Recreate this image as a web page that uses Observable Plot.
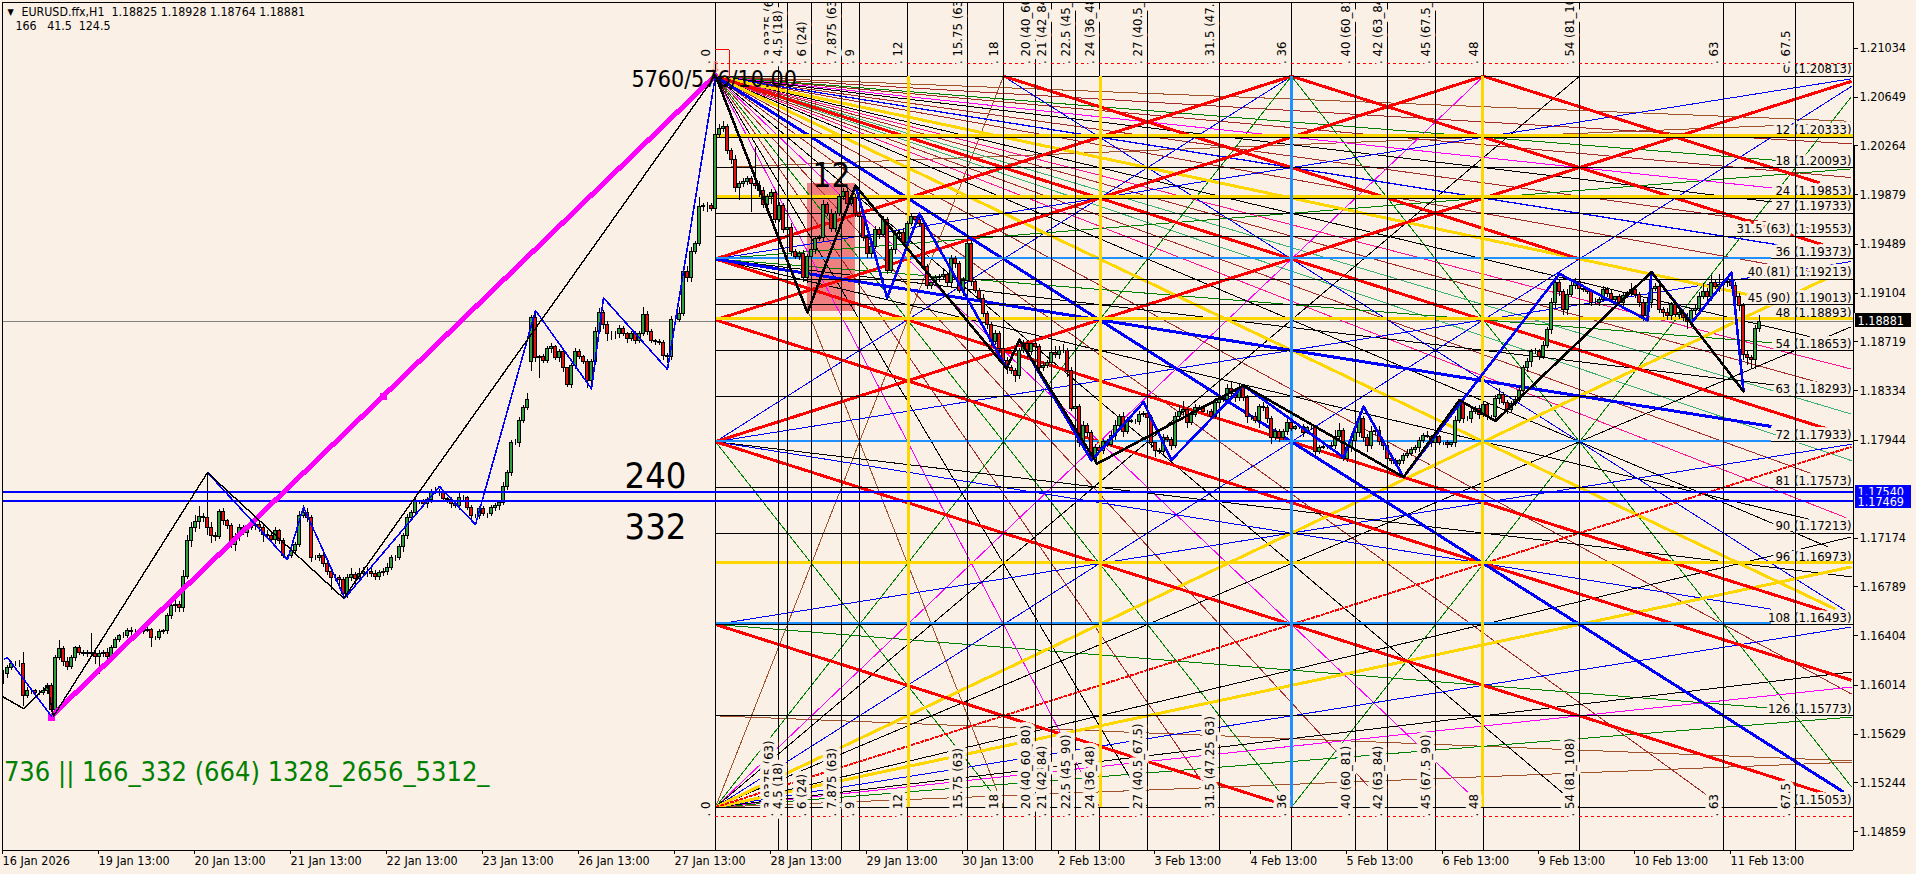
<!DOCTYPE html>
<html><head><meta charset="utf-8">
<script src="https://cdn.jsdelivr.net/npm/d3@7"></script>
<script src="https://cdn.jsdelivr.net/npm/@observablehq/plot@0.6"></script>
<style>html,body{margin:0;padding:0;background:#faf0e6;overflow:hidden}</style>
</head><body><div id="c"></div>
<script>
const FONT='"DejaVu Sans Condensed","DejaVu Sans",sans-serif';
const BG="#faf0e6";
// ---- time / price axis
const dateLabels=["16 Jan 2026","19 Jan 13:00","20 Jan 13:00","21 Jan 13:00","22 Jan 13:00","23 Jan 13:00","26 Jan 13:00","27 Jan 13:00","28 Jan 13:00","29 Jan 13:00","30 Jan 13:00","2 Feb 13:00","3 Feb 13:00","4 Feb 13:00","5 Feb 13:00","6 Feb 13:00","9 Feb 13:00","10 Feb 13:00","11 Feb 13:00"];
const priceTicks=[1.21034,1.20649,1.20264,1.19879,1.19489,1.19104,1.18719,1.18334,1.17944,1.17174,1.16789,1.16404,1.16014,1.15629,1.15244,1.14859];
// ---- candle closes, in 1e-4 above 1.0000, one per H1 bar
const closes=[
1610,1615,1618,1618,1618,1593,1597,1597,1595,1595,1597,1601,1582,1623,1630,1620,1616,1623,1631,1627,
1626,1627,1626,1624,1626,1627,1624,1631,1637,1640,1640,1644,1643,1643,1643,1644,1645,1639,1639,1643,
1644,1656,1664,1665,1662,1687,1715,1725,1730,1734,1733,1725,1719,1718,1738,1731,1727,1712,1718,1725,
1721,1725,1727,1728,1725,1720,1719,1716,1723,1715,1703,1703,1707,1712,1735,1737,1733,1702,1702,1703,
1697,1691,1686,1686,1684,1673,1686,1688,1685,1689,1691,1691,1689,1687,1690,1691,1694,1702,1702,1710,
1719,1733,1737,1746,1746,1744,1747,1754,1754,1753,1748,1747,1744,1743,1749,1749,1741,1735,1735,1740,
1736,1736,1741,1743,1745,1758,1769,1792,1792,1810,1820,1826,1891,1859,1860,1857,1866,1868,1859,1864,
1851,1838,1853,1864,1860,1856,1841,1856,1880,1895,1885,1878,1878,1878,1882,1878,1874,1878,1873,1878,
1893,1880,1873,1872,1871,1861,1860,1889,1889,1894,1927,1922,1943,1949,1978,1979,1979,1977,2035,2040,
2041,2022,2015,1993,1996,1998,2000,1996,1995,1991,1980,1986,1989,1968,1979,1960,1962,1943,1939,1941,
1922,1939,1944,1953,1954,1980,1973,1961,1973,1986,1990,1981,1985,1973,1970,1954,1941,1947,1960,1956,
1968,1928,1944,1957,1958,1950,1965,1970,1968,1965,1931,1916,1918,1922,1923,1925,1918,1937,1933,1912,
1920,1949,1919,1912,1906,1894,1885,1872,1878,1866,1857,1851,1849,1845,1865,1870,1864,1870,1868,1851,
1853,1855,1863,1862,1865,1865,1849,1819,1821,1792,1806,1800,1779,1788,1786,1793,1791,1798,1806,1813,
1801,1810,1809,1809,1814,1815,1812,1792,1786,1785,1796,1795,1790,1813,1817,1818,1808,1814,1820,1819,
1817,1817,1813,1824,1827,1826,1835,1831,1828,1836,1828,1813,1813,1810,1821,1820,1811,1796,1801,1796,
1801,1808,1803,1805,1805,1800,1804,1804,1785,1788,1789,1789,1790,1797,1802,1780,1788,1794,1800,1811,
1796,1790,1801,1802,1793,1790,1780,1778,1776,1778,1782,1784,1787,1788,1794,1798,1797,1792,1797,1792,
1792,1791,1792,1810,1824,1811,1811,1817,1819,1814,1822,1813,1813,1827,1830,1824,1818,1823,1826,1833,
1851,1856,1864,1864,1860,1869,1881,1903,1918,1911,1897,1909,1916,1919,1914,1913,1911,1903,1903,1905,
1913,1910,1905,1907,1903,1908,1910,1913,1909,1903,1892,1903,1914,1915,1897,1895,1892,1901,1893,1895,
1891,1888,1896,1898,1907,1911,1907,1918,1915,1917,1918,1919,1916,1907,1900,1862,1859,1858,1882,1888];
const openOverrides={132:1856};
const upWicks=[
3,2,2,2,3,9,3,2,1,2,3,2,2,2,7,2,3,2,1,2,
2,2,15,2,3,2,3,2,2,1,3,2,3,2,1,2,2,1,1,2,
1,2,1,3,2,5,4,5,5,8,3,36,5,3,2,3,1,2,3,3,
2,2,3,2,3,2,3,2,3,1,2,1,3,2,3,6,4,2,2,2,
3,2,2,3,2,2,3,5,2,4,3,3,2,3,2,2,3,2,2,2,
2,3,2,3,1,2,2,2,3,2,2,1,2,1,4,2,1,2,1,2,
2,1,2,2,2,3,2,2,3,2,2,5,2,3,1,2,2,3,1,2,
2,1,2,3,2,1,2,2,3,3,2,3,2,2,3,2,1,2,2,2,
6,3,2,1,2,2,2,3,2,5,2,4,3,2,8,2,3,2,5,3,
5,2,2,4,2,3,2,2,29,3,3,2,3,2,3,2,2,3,2,2,
3,2,3,2,2,3,2,3,2,2,3,2,3,2,2,3,2,2,3,2,
3,2,2,3,2,3,2,2,1,2,3,2,1,2,2,3,2,3,2,2,
3,2,3,2,2,3,2,2,3,2,2,3,2,2,2,3,3,1,4,2,
3,2,3,5,3,5,2,3,1,2,3,2,2,3,2,2,2,3,4,2,
3,2,1,2,3,2,3,2,1,2,3,2,2,3,5,7,2,3,3,2,
2,1,2,3,3,2,3,5,2,3,2,2,1,3,2,3,2,2,3,2,
2,3,2,1,2,2,1,3,2,2,1,1,3,5,6,2,3,3,2,3,
2,3,4,2,3,2,1,1,2,1,2,3,2,2,3,2,3,1,2,1,
1,2,1,3,2,4,2,3,2,3,3,2,1,3,5,2,2,2,2,3,
2,3,2,3,2,3,2,3,4,3,2,4,5,3,2,2,1,2,3,2,
3,2,3,1,2,3,2,5,3,2,2,4,3,3,2,2,3,2,3,2,
2,3,2,3,4,7,3,6,2,8,3,2,3,3,3,2,2,2,3,5];
const downWicks=[
8,3,2,2,3,8,2,3,2,2,2,3,2,5,2,4,3,2,3,2,
2,3,2,6,14,3,2,2,1,2,2,2,3,2,2,2,1,8,2,2,
2,3,3,5,3,3,2,5,3,6,3,6,6,3,2,4,3,3,5,3,
2,3,2,4,3,6,3,3,4,3,2,3,2,3,2,2,3,4,2,3,
3,3,10,3,5,3,3,3,6,2,3,5,3,3,3,3,3,2,3,2,
4,3,2,3,2,2,3,2,2,3,2,2,3,2,4,3,2,3,2,3,
2,3,2,3,4,2,3,3,2,3,2,2,7,3,16,2,2,3,2,3,
3,2,3,3,2,2,6,5,3,2,3,6,5,4,3,2,3,2,3,2,
2,3,2,3,2,4,5,3,3,2,2,3,3,2,2,3,5,2,3,2,
3,2,3,3,10,2,3,22,3,5,3,2,6,3,2,3,3,4,2,3,
3,4,2,3,2,4,2,3,3,2,3,3,2,3,2,3,3,3,2,3,
2,3,2,3,3,3,2,2,3,3,2,3,3,2,3,2,3,3,3,2,
4,6,3,2,2,3,3,4,3,3,3,5,3,5,3,2,5,3,3,4,
2,2,3,3,4,2,5,2,2,3,4,3,2,3,2,3,2,2,4,3,
4,2,1,2,3,2,2,4,5,2,3,2,4,2,2,3,4,2,2,1,
1,2,2,2,3,2,3,2,4,3,3,5,3,2,6,3,3,5,2,3,
2,3,2,1,2,3,1,2,3,2,1,2,2,3,2,2,3,3,2,3,
3,5,3,3,3,4,2,3,2,2,3,2,2,3,3,2,1,3,2,2,
2,3,2,3,2,3,2,3,2,3,2,3,2,3,4,2,3,2,2,2,
4,3,4,2,3,2,2,3,5,3,4,4,2,3,2,2,2,3,2,3,
2,3,3,2,3,4,2,2,3,4,4,5,5,2,3,4,3,3,2,3,
3,6,5,3,3,2,3,3,2,4,2,3,3,4,4,5,6,7,8,3];
// ---- zigzags: [bar, price in 1e-4 above 1.0000]
const blueZigA=[[0.2,1622],[1,1623],[12,1577]];
const blueZigB=[[51,1769],[71,1700.4],[75,1741.7],[85.3,1670],[109,1758],[118,1728],[133,1896.7],[147,1835],[150,1906.7],[166,1850.2],[178,2082]];
const blackThin=[[0,1592],[5,1583],[11,1601],[12.5,1577],[51,1769],[85,1670],[178,2082]];
const blackThick=[[178,2082],[201,1895],[213,1995],[250.8,1851],[254,1873.6],[273.4,1776],[310,1837.6],[350,1765.4],[364,1826],[373,1809.6],[412,1927],[435,1833]];
const blueThickZig=[[213,1995],[220.9,1906.7],[229,1973],[250.8,1851],[254,1873.6],[272,1778.5],[285,1824.4],[292,1779],[310,1837.6],[335,1781],[340,1821],[350,1765.4],[389,1925.6],[411,1889],[412,1927],[422,1887],[432,1926.4],[435,1833]];
const magentaLeg=[[12,1577],[178,2082]];
const magentaKnots=[[12,1576],[94.9,1829]];
// ---- Gann box: level number -> price / time
const boxStartBar=178, barsPerLevel=4, boxTop=1.20813, pricePerLevel=0.0004;
const goldLevels=[12,24,48,96], blueLevels=[36,72,108], blackLevels=[0,18,27,31.5,40,45,54,63,81,90,126,144];
const levelLabels=[[0,"0 (1.20813)"],[12,"12 (1.20333)"],[18,"18 (1.20093)"],[24,"24 (1.19853)"],[27,"27 (1.19733)"],[31.5,"31.5 (63) (1.19553)"],[36,"36 (1.19373)"],[40,"40 (81) (1.19213)"],[45,"45 (90) (1.19013)"],[48,"48 (1.18893)"],[54,"54 (1.18653)"],[63,"63 (1.18293)"],[72,"72 (1.17933)"],[81,"81 (1.17573)"],[90,"90 (1.17213)"],[96,"96 (1.16973)"],[108,"108 (1.16493)"],[126,"126 (1.15773)"],[144,"1 (1.15053)"]];
const timeLevels=[0,3.9375,4.5,6,7.875,9,12,15.75,18,20,21,22.5,24,27,31.5,36,40,42,45,48,54,63,67.5];
const timeLabels=["0","3.9375 (63)","4.5 (18)","6 (24)","7.875 (63)","9","12","15.75 (63)","18","20 (40_60_80)","21 (42_84)","22.5 (45_90)","24 (36_48)","27 (40.5_67.5)","31.5 (47.25_63)","36","40 (60_81)","42 (63_84)","45 (67.5_90)","48","54 (81_108)","63","67.5"];
// ---- rays: [start level-x, start level-y, slope, end level-x]
const redThick=[[0,0,1,69.5],[18,0,1,54],[36,0,1,69.2],[48,0,1,69],[0,36,1,69.6],[0,48,1,71],[0,72,1,69.6],[0,108,1,36],[0,36,-1,36],[0,48,-1,48],[0,72,-1,71]];
const redDotted=[[0,144,-1,71]];
const goldThick=[[0,0,2/3,64.5],[0,0,3/2,70],[0,144,-2/3,71],[0,144,-3/2,71]];
const blueThick=[[0,0,2,70.5],[0,36,.5,66]];
const blueMedium=[[0,0,.5,66.5]];
const blueThin=[[18,0,2,70.7],[0,72,-2,36],[0,144,-2,71],[0,36,-.5,71],[0,72,-.5,71],[0,108,-.5,71],[0,144,-.5,71],[0,72,.5,66]];
const greenThin=[[0,0,4,36],[0,144,-4,36],[0,72,4,18],[36,0,4,71],[36,144,-4,71],[0,36,.25,66],[0,36,-.25,71],[0,108,.25,66],[0,144,-.25,71],[0,0,.25,66.4]];
const magentaThin=[[0,0,3,48],[0,144,-3,48],[0,0,1/3,66],[0,144,-1/3,71],[0,0,6,24]];
const blackThinRays=[[0,0,3/8,66],[0,0,3/4,68.4],[0,0,4/3,69.5],[0,0,8/3,54],[0,0,16/3,27],[0,36,3/8,67.6],[0,36,3/4,68.6],[0,72,3/8,71],[0,144,-3/8,71],[0,144,-3/4,71],[0,144,-4/3,71],[0,144,-8/3,54]];
const brownThin=[[0,0,1/8,71],[0,18,-1/8,71],[0,126,1/8,71],[0,144,-1/8,71],[0,144,-8,18],[0,0,8,18]];
const darkRedThin=[[0,0,3/16,71],[0,0,9/32,71],[0,0,7/16,71],[0,0,9/16,71],[0,0,7/8,69],[0,0,8/7,68.5],[0,0,12/7,71],[0,0,16/7,62],[0,0,24/7,41],[0,0,32/7,30.2]];
const pinkThin=[[0,0,13/16,71],[0,0,16/13,71]];
const seaGreenThin=[[0,0,15/16,71],[0,0,16/15,71]];

const bar=n=>boxStartBar+barsPerLevel*n;
const lvl=n=>boxTop-pricePerLevel*n;
const px=v=>1+v/10000;
const candles=closes.map((c,i)=>{const o=openOverrides[i]??(i?closes[i-1]:c);
  return {i,o:px(o),c:px(c),h:px(Math.max(o,c)+upWicks[i]),l:px(Math.min(o,c)-downWicks[i]),up:c>=o};});
const rayMark=(rays,stroke,strokeWidth,extra={})=>Plot.link(rays,{x1:r=>bar(r[0]),y1:r=>lvl(r[1]),x2:r=>bar(r[3]),y2:r=>lvl(r[1]+r[2]*(r[3]-r[0])),stroke,strokeWidth,clip:true,...extra});
const zig=(pts,stroke,strokeWidth)=>Plot.line(pts,{x:d=>d[0],y:d=>px(d[1]),stroke,strokeWidth,clip:true});
const note=(text,x,y,o)=>Plot.text([text],{x:()=>x,y:()=>y,text:d=>d,fontFamily:FONT,fill:"black",...o});
const lastPrice=1.18881;
const chart=Plot.plot({
  width:1916,height:874,marginTop:2,marginLeft:3,marginRight:63,marginBottom:24,
  x:{domain:[0,462.5],axis:null},y:{domain:[1.1471164,1.2139412],axis:null},
  style:{background:BG,fontFamily:FONT,fontSize:"12px",color:"black",shapeRendering:"crispEdges",display:"block"},
  marks:[
    Plot.rect([0],{x1:()=>201,x2:()=>213,y1:()=>1.1896,y2:()=>1.19966,fill:"#f08080"}),
    Plot.ruleY([lastPrice],{stroke:"#808080",strokeWidth:1}),
    // rays
    rayMark(brownThin,"#a0522d",1),
    rayMark(darkRedThin,"#a52a2a",1),
    rayMark(pinkThin,"#ff1493",1),
    rayMark(seaGreenThin,"#3cb371",1),
    rayMark(greenThin,"#008000",1),
    rayMark(magentaThin,"#ff00ff",1),
    rayMark(blackThinRays,"#000",1),
    rayMark(blueThin,"#0000ff",1),
    rayMark(blueMedium,"#0000ff",1.3),
    rayMark(goldThick,"#ffd700",3),
    rayMark(redDotted,"#ff0000",2,{strokeDasharray:"4 1"}),
    rayMark(redThick,"#ff0000",3),
    rayMark(blueThick,"#0000ff",3),
    // right level labels mask what runs behind them
    Plot.text(levelLabels,{x:()=>462,y:d=>lvl(d[0]),dy:-7,text:d=>d[1],textAnchor:"end",fontFamily:FONT,fontSize:13,fill:"black",stroke:BG,strokeWidth:6}),
    // horizontal levels
    Plot.ruleY(goldLevels.concat(blackLevels,blueLevels),{y:lvl,x1:bar(0),x2:462.5,stroke:"#000",strokeWidth:1}),
    Plot.ruleY(goldLevels,{y:lvl,dy:-1.5,x1:bar(0),x2:462.5,stroke:"#ffd700",strokeWidth:3}),
    Plot.ruleY(blueLevels,{y:lvl,dy:-1,x1:bar(0),x2:bar(66),stroke:"#1e90ff",strokeWidth:2}),
    // vertical levels
    Plot.ruleX(timeLevels,{x:bar,y1:1.1471164,y2:1.2139412,stroke:"#000",strokeWidth:1.4}),
    Plot.ruleX([12,24],{x:bar,dx:1,y1:lvl(144),y2:lvl(0),stroke:"#ffd700",strokeWidth:3.4}),
    Plot.ruleX([48],{x:bar,dx:-1.5,y1:lvl(144),y2:lvl(0),stroke:"#ffd700",strokeWidth:3}),
    Plot.ruleX([36],{x:bar,y1:lvl(144),y2:lvl(0),stroke:"#1e90ff",strokeWidth:2.4}),
    // dotted bounds
    Plot.ruleY([1.2091,1.1498],{x1:bar(0),x2:462.5,stroke:"#ff0000",strokeWidth:1,strokeDasharray:"3 3"}),
    // time labels
    Plot.text(timeLevels,{x:n=>bar(n)-2.3,y:()=>1.2091,text:(n,i)=>". "+timeLabels[i],rotate:-90,textAnchor:"start",fontFamily:FONT,fontSize:13,fill:"black",stroke:BG,strokeWidth:8,clip:true}),
    Plot.text(timeLevels,{x:n=>bar(n)-2.3,y:()=>1.1498,text:(n,i)=>". "+timeLabels[i],rotate:-90,textAnchor:"start",fontFamily:FONT,fontSize:13,fill:"black",stroke:BG,strokeWidth:8,clip:true}),
    // candles
    Plot.ruleX(candles,{x:"i",y1:"l",y2:"h",stroke:"#000",strokeWidth:1,clip:true}),
    Plot.rect(candles,{x1:d=>d.i-.38,x2:d=>d.i+.38,y1:"o",y2:"c",fill:d=>d.up?"#2e9e3e":"#e01010",stroke:"#000",strokeWidth:1,clip:true}),
    // blue session lines
    Plot.ruleY([1.1754,1.17469],{stroke:"#0000ff",strokeWidth:2}),
    // zigzags
    zig(magentaLeg,"#ff00ff",5),
    Plot.dot(magentaKnots,{x:d=>d[0],y:d=>px(d[1]),symbol:"square",r:4,fill:"#ff00ff"}),
    zig(blueZigA,"#0000ff",1.6),
    zig(blueZigB,"#0000ff",1.6),
    zig(blackThin,"#000",1.4),
    zig(blueThickZig,"#0000ff",2.6),
    zig(blackThick,"#000",2.6),
    // apex arrow
    Plot.line([[178,1.2102],[181.4,1.2102],[181.4,1.2081]],{x:d=>d[0],y:d=>d[1],stroke:"#ff0000",strokeWidth:1}),
    note("⇩",178,1.2088,{fill:"#fa8072",fontSize:16}),
    // big notes
    note("5760/576/10.00",157,1.20787,{textAnchor:"start",fontSize:23}),
    note("12",207,1.20023,{fontSize:33}),
    note("240",163,1.17661,{fontSize:36}),
    note("332",163,1.17255,{fontSize:36}),
    note("736 || 166_332 (664) 1328_2656_5312_",121.5,1.1533,{textAnchor:"end",fontSize:27,fill:"#008000"}),
    // header
    note("▼",1.75,1.21315,{fontSize:9}),
    note("EURUSD.ffx,H1  1.18825 1.18928 1.18764 1.18881",4.5,1.21315,{textAnchor:"start",fontSize:12.3}),
    note("166   41.5  124.5",3,1.21205,{textAnchor:"start",fontSize:12.3}),
    // price boxes
    Plot.rect([0],{x1:()=>463,x2:()=>477,y1:()=>1.17509,y2:()=>1.17591,fill:"#0000ff"}),
    note("1.17540",463.5,1.1754,{textAnchor:"start",fontSize:12.5,fill:"#fff"}),
    Plot.rect([0],{x1:()=>463,x2:()=>477,y1:()=>1.1741,y2:()=>1.17509,fill:"#0000ff"}),
    note("1.17469",463.5,1.17457,{textAnchor:"start",fontSize:12.5,fill:"#fff"}),
    Plot.rect([0],{x1:()=>463,x2:()=>477,y1:()=>1.18834,y2:()=>1.18944,fill:"#000"}),
    note(lastPrice.toFixed(5),463.5,lastPrice,{textAnchor:"start",fontSize:12.5,fill:"#fff"}),
    // frame and axes
    Plot.ruleY([1.1471164,1.2139412],{stroke:"#000",strokeWidth:1}),
    Plot.ruleX([-.25,462.5],{stroke:"#000",strokeWidth:1}),
    Plot.ruleX([462.6],{y1:1.20259,y2:1.1894,stroke:"#000",strokeWidth:2.5}),
    Plot.axisX({anchor:"bottom",ticks:dateLabels.map((d,i)=>24*i),tickFormat:(d,i)=>dateLabels[i],tickSize:4,tickPadding:2,textAnchor:"start",dx:-1,label:null,fontSize:12.5,fontFamily:FONT,fill:"black"}),
    Plot.axisY({anchor:"right",ticks:priceTicks,tickFormat:d=>d.toFixed(5),tickSize:4,tickPadding:2,label:null,fontSize:12.5,fontFamily:FONT,fill:"black"})
  ]
});
document.getElementById("c").appendChild(chart);
</script></body></html>
